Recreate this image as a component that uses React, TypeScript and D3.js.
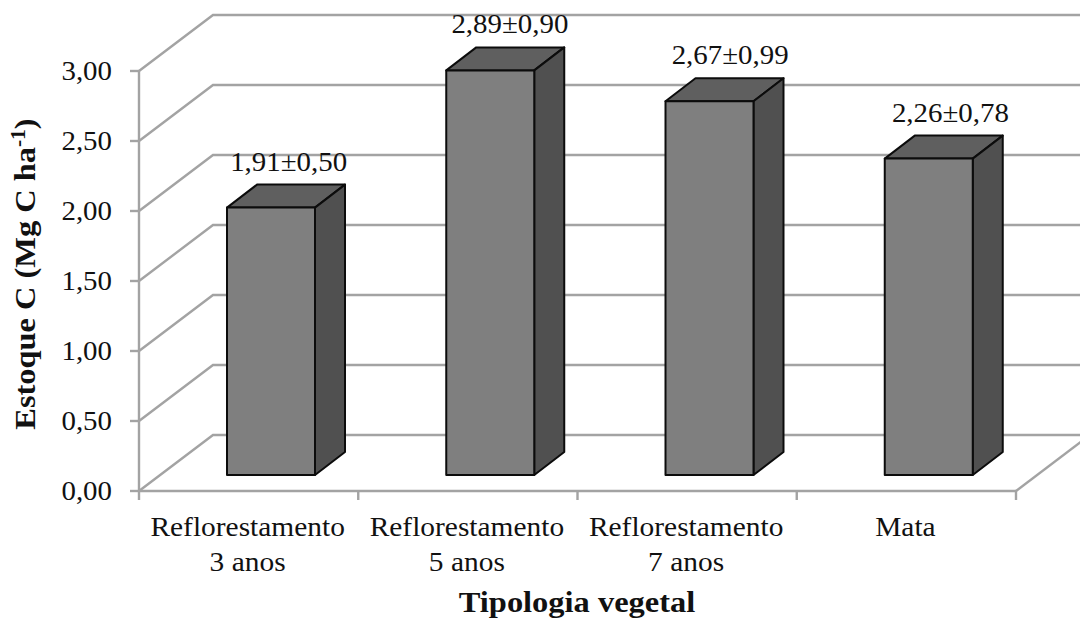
import React from "react";
import * as d3 from "d3";

const categories = ["Reflorestamento|3 anos", "Reflorestamento|5 anos", "Reflorestamento|7 anos", "Mata"];
const means = [1.91, 2.89, 2.67, 2.26];
const labels = ["1,91±0,50", "2,89±0,90", "2,67±0,99", "2,26±0,78"];
const yTicks = [0, 0.5, 1, 1.5, 2, 2.5, 3];
const labelOffsets = [40, 42, 43, 44];

const W = 1080, H = 618;
const FONT = "'Liberation Serif', serif";
const y = d3.scaleLinear().domain([0, 3]).range([491, 71]);
const x = d3.scaleBand().domain(categories).range([139, 1016]);
const wallDX = 74, wallDY = 56;
const barStart = 88, barW = 88, barDX = 30, barDY = 23, baseY = 475;
const unit = y(0) - y(1);
const GRID = "#a3a3a3";

function T({ x: tx, y: ty, children, size = 27, sx = 1.07, anchor = "middle", weight = "normal" }: any) {
  return (
    <text transform={`translate(${tx},${ty}) scale(${sx},1)`} textAnchor={anchor} fontFamily={FONT}
      fontSize={size} fontWeight={weight} fill="#111">{children}</text>
  );
}

export default function App() {
  return (
    <svg width={W} height={H} viewBox={`0 0 ${W} ${H}`} style={{ position: "absolute", left: 0, top: 0, background: "#fff" }}>
      {/* walls and gridlines */}
      {yTicks.map(t => (
        <g key={t} fill="none" stroke={GRID} strokeWidth={2.4}>
          <polyline points={`139,${y(t)} ${139 + wallDX},${y(t) - wallDY} 1090,${y(t) - wallDY}`} />
          <line x1={130} x2={139} y1={y(t)} y2={y(t)} />
        </g>
      ))}
      <line x1={139} x2={139} y1={y(3)} y2={y(0) + 9} stroke={GRID} strokeWidth={2.4} />
      <line x1={139} x2={1016} y1={y(0)} y2={y(0)} stroke={GRID} strokeWidth={2.4} />
      <line x1={1016} y1={y(0)} x2={1016 + wallDX} y2={y(0) - wallDY} stroke={GRID} strokeWidth={2.4} />
      {categories.map(c => (
        <line key={c} x1={(x(c) as number) + x.bandwidth()} x2={(x(c) as number) + x.bandwidth()} y1={y(0)} y2={y(0) + 9} stroke={GRID} strokeWidth={2.4} />
      ))}
      {/* bars */}
      {categories.map((c, i) => {
        const l = (x(c) as number) + barStart, r = l + barW, top = baseY - means[i] * unit;
        return (
          <g key={c} stroke="#0c0c0c" strokeWidth={2} strokeLinejoin="round">
            <polygon fill="#5f5f5f" points={`${l},${top} ${l + barDX},${top - barDY} ${r + barDX},${top - barDY} ${r},${top}`} />
            <polygon fill="#505050" points={`${r},${top} ${r + barDX},${top - barDY} ${r + barDX},${baseY - barDY} ${r},${baseY}`} />
            <rect fill="#7f7f7f" x={l} y={top} width={barW} height={baseY - top} />
          </g>
        );
      })}
      {/* data labels */}
      {categories.map((c, i) => (
        <T key={c} x={(x(c) as number) + x.bandwidth() / 2 + labelOffsets[i]} y={baseY - means[i] * unit - 37}>{labels[i]}</T>
      ))}
      {/* y tick labels */}
      {yTicks.map(t => (
        <T key={t} x={112} y={y(t) + 9} anchor="end">{t.toFixed(2).replace(".", ",")}</T>
      ))}
      {/* category labels */}
      {categories.map(c => {
        const cx = (x(c) as number) + x.bandwidth() / 2 - 1;
        return c.split("|").map((line, j) => (
          <T key={line + j} x={cx} y={536 + j * 35} sx={1.09}>{line}</T>
        ));
      })}
      <T x={577} y={611.5} size={29} sx={1.12} weight="bold">Tipologia vegetal</T>
      <text transform="translate(35,274) rotate(-90) scale(1.08,1)" textAnchor="middle" fontFamily={FONT} fontSize={30} fontWeight="bold" fill="#111">
        Estoque C (Mg C ha<tspan dy={-10} fontSize={20}>-1</tspan><tspan dy={10}>)</tspan>
      </text>
    </svg>
  );
}
